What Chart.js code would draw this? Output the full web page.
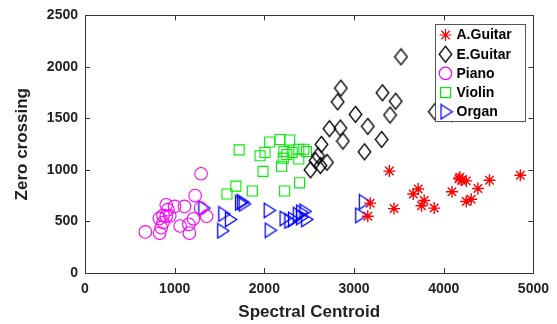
<!DOCTYPE html>
<html><head><meta charset="utf-8">
<script src="https://cdn.jsdelivr.net/npm/chart.js@4.4.0/dist/chart.umd.min.js"></script>
<style>html,body{margin:0;padding:0;background:#fff;}#wrap{width:557px;height:324px;}</style>
</head><body><div id="wrap"><canvas id="c" width="557" height="324"></canvas></div>
<script>
const seriesNames = ['A.Guitar','E.Guitar','Piano','Violin','Organ'];
const aGuitarX = [3394,3660,3715,3782,3752,3893,3446,4092,4170,4196,4251,4510,4854,4381,4251,4306,3180,3153,4180,4090];
const aGuitarY = [989,767,815,703,653,630,625,789,915,900,894,900,948,820,694,716,678,551,930,1520];
const eGuitarX = [3523,2853,2817,3316,3464,3401,3016,3153,2725,2847,2876,3308,2636,3116,2598,2570,2698,2514,2625,3900];
const eGuitarY = [2098,1794,1661,1749,1667,1533,1540,1423,1400,1407,1280,1296,1248,1176,1138,1090,1074,1001,1043,1566];
const pianoX = [1294,1228,1109,998,906,870,830,906,945,870,673,832,850,1061,1164,1157,1209,1356,1290,924];
const pianoY = [963,751,646,646,662,560,530,551,555,490,399,387,440,456,387,472,526,551,630,615];
const violinX = [1719,1952,2007,2059,2174,2281,2218,2210,2310,2384,2440,2470,2384,2192,1985,1682,1583,1866,2226,2392,2250];
const violinY = [1195,1138,1169,1271,1296,1290,1179,1115,1169,1201,1201,1179,1106,1036,986,843,767,796,796,875,1150];
const organX = [1331,1553,1627,1541,1740,1760,1780,2059,2070,2236,2290,2330,2384,2420,2458,2477,2420,3120,3080];
const organY = [630,573,520,409,680,690,670,608,415,530,505,520,567,590,599,520,540,690,560];
const xTicks = [0,1000,2000,3000,4000,5000];
const yTicks = [0,500,1000,1500,2000,2500];

function pts(xs, ys){ return xs.map((x,i)=>({x:x, y:ys[i]})); }

function makeDiamond(){
  const c = document.createElement('canvas'); c.width = 15; c.height = 19;
  const g = c.getContext('2d'); g.strokeStyle = '#000'; g.lineWidth = 1.3;
  g.beginPath(); g.moveTo(7.5,1.5); g.lineTo(13.8,9.5); g.lineTo(7.5,17.5); g.lineTo(1.2,9.5); g.closePath(); g.stroke();
  return c;
}
function makeTriangle(){
  const c = document.createElement('canvas'); c.width = 14; c.height = 17;
  const g = c.getContext('2d'); g.strokeStyle = '#0000ff'; g.lineWidth = 1.3;
  g.beginPath(); g.moveTo(1.5,1.2); g.lineTo(12.8,8.5); g.lineTo(1.5,15.8); g.closePath(); g.stroke();
  return c;
}
const diamondImg = makeDiamond();
const triImg = makeTriangle();

const FONT = "'Liberation Sans', Arial, Helvetica, sans-serif";

const frame = {
  id: 'frame',
  afterDatasetsDraw(chart){
    const {ctx, chartArea: a, scales} = chart;
    ctx.save();
    ctx.strokeStyle = '#333'; ctx.lineWidth = 1;
    ctx.strokeRect(Math.round(a.left)+0.5, Math.round(a.top)+0.5, Math.round(a.right-a.left), Math.round(a.bottom-a.top));
    const L = 5;
    ctx.beginPath();
    xTicks.forEach(v=>{ const px = Math.round(scales.x.getPixelForValue(v))+0.5;
      ctx.moveTo(px, a.bottom); ctx.lineTo(px, a.bottom-L);
      ctx.moveTo(px, a.top); ctx.lineTo(px, a.top+L); });
    yTicks.forEach(v=>{ const py = Math.round(scales.y.getPixelForValue(v))+0.5;
      ctx.moveTo(a.left, py); ctx.lineTo(a.left+L, py);
      ctx.moveTo(a.right, py); ctx.lineTo(a.right-L, py); });
    ctx.stroke();
    // legend
    const bx = Math.round(a.right) - 98 + 0.5, by = Math.round(a.top) + 9 + 0.5, bw = 90, bh = 97;
    ctx.fillStyle = '#fff'; ctx.fillRect(bx, by, bw, bh);
    ctx.strokeStyle = '#555'; ctx.strokeRect(bx, by, bw, bh);
    ctx.font = 'bold 14px ' + FONT; ctx.textBaseline = 'middle'; ctx.fillStyle = '#000'; ctx.textAlign = 'left';
    seriesNames.forEach((name, i)=>{
      const cy = by + 10.5 + i*19.2, cx = bx + 10;
      ctx.lineWidth = 1.2;
      if (i===0){ ctx.strokeStyle = '#f00'; ctx.beginPath();
        for (let k=0;k<4;k++){ const ang = k*Math.PI/4; ctx.moveTo(cx-6*Math.cos(ang), cy-6*Math.sin(ang)); ctx.lineTo(cx+6*Math.cos(ang), cy+6*Math.sin(ang)); }
        ctx.stroke(); }
      else if (i===1){ ctx.drawImage(diamondImg, cx-7.5, cy-9.5); }
      else if (i===2){ ctx.strokeStyle = '#ff00ff'; ctx.beginPath(); ctx.arc(cx, cy, 6.2, 0, Math.PI*2); ctx.stroke(); }
      else if (i===3){ ctx.strokeStyle = '#00ee00'; ctx.strokeRect(cx-5, cy-5, 10, 10); }
      else { ctx.drawImage(triImg, cx-6, cy-8.5); }
      ctx.fillText(name, bx + 21, cy + 0.5);
    });
    ctx.restore();
  }
};

new Chart(document.getElementById('c'), {
  type: 'scatter',
  data: { datasets: [
    { label: seriesNames[0], data: pts(aGuitarX, aGuitarY), pointStyle: 'star', pointRadius: 6, borderColor: '#ff0000', backgroundColor: '#ff0000', borderWidth: 1.4 },
    { label: seriesNames[1], data: pts(eGuitarX, eGuitarY), pointStyle: diamondImg, pointRadius: 7 },
    { label: seriesNames[2], data: pts(pianoX, pianoY), pointStyle: 'circle', pointRadius: 6.3, borderColor: '#ff00ff', backgroundColor: 'rgba(0,0,0,0)', borderWidth: 1.1 },
    { label: seriesNames[3], data: pts(violinX, violinY), pointStyle: 'rect', pointRadius: 7.1, borderColor: '#00ee00', backgroundColor: 'rgba(0,0,0,0)', borderWidth: 1.1 },
    { label: seriesNames[4], data: pts(organX, organY), pointStyle: triImg, pointRadius: 7 }
  ]},
  options: {
    responsive: false, animation: false, events: [], devicePixelRatio: 1,
    layout: { padding: { top: 10, right: 21, left: 0, bottom: 0 } },
    plugins: { legend: { display: false }, tooltip: { enabled: false } },
    scales: {
      x: { type: 'linear', min: 0, max: 5000, position: 'bottom',
        afterBuildTicks(s){ s.ticks = xTicks.map(v=>({value:v})); },
        afterFit(s){ s.height = 51; },
        grid: { display: false, drawTicks: false }, border: { display: false },
        ticks: { font: { family: FONT, size: 14, weight: 'bold' }, color: '#222', padding: 8, maxRotation: 0, callback: v => String(v) },
        title: { display: true, text: 'Spectral Centroid', font: { family: FONT, size: 17, weight: 'bold' }, color: '#222', padding: { top: 0, bottom: 1 } } },
      y: { type: 'linear', min: 0, max: 2500,
        afterBuildTicks(s){ s.ticks = yTicks.map(v=>({value:v})); },
        afterFit(s){ s.width = 85; },
        grid: { display: false, drawTicks: false }, border: { display: false },
        ticks: { font: { family: FONT, size: 14, weight: 'bold' }, color: '#222', padding: 7, callback: v => String(v) },
        title: { display: true, text: 'Zero crossing', font: { family: FONT, size: 17, weight: 'bold' }, color: '#222', padding: { top: 12, bottom: 0 } } }
    }
  },
  plugins: [frame]
});
</script></body></html>
